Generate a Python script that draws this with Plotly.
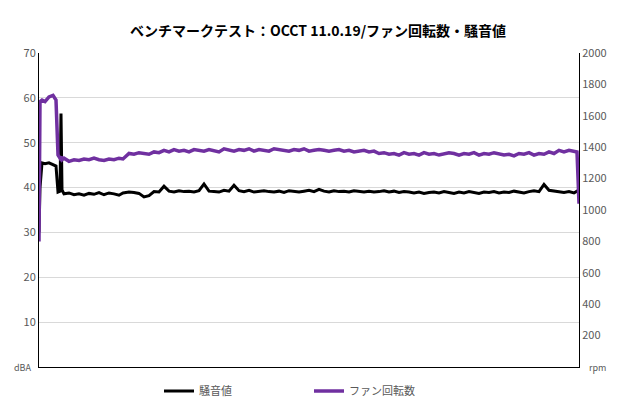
import plotly.graph_objects as go

t = [0, 1, 3, 6, 10, 14, 17, 19, 21, 22, 23, 25, 30, 35, 40, 45, 50, 55, 60, 65, 70, 75, 80, 84,
     90, 95, 100, 105, 110, 115, 120, 125, 130, 135, 140, 145, 150, 155, 160, 165, 170, 175, 180,
     185, 190, 195, 200, 205, 210, 215, 220, 225, 230, 235, 240, 245, 250, 255, 260, 265, 270, 275,
     280, 285, 290, 295, 300, 305, 310, 315, 320, 325, 330, 335, 340, 345, 350, 355, 360, 365, 370,
     375, 380, 385, 390, 395, 400, 405, 410, 415, 420, 425, 430, 435, 440, 445, 450, 455, 460, 465,
     470, 475, 480, 485, 490, 495, 500, 505, 510, 515, 520, 525, 530, 535, 538, 540]
dba = [30, 40, 45.5, 45.3, 45.5, 45, 44.8, 39, 39.2, 56.5, 39.5, 38.6, 38.8, 38.4, 38.6, 38.3, 38.7, 38.5, 38.9, 38.4, 38.8, 38.6, 38.3, 38.8,
       39.0, 38.9, 38.7, 37.9, 38.2, 39.1, 39.0, 40.3, 39.2, 39.0, 39.3, 39.1, 39.2, 39.0, 39.3, 40.8, 39.2, 39.1, 39.0,
       39.4, 39.2, 40.5, 39.3, 39.1, 39.4, 39.0, 39.2, 39.3, 39.1, 39.0, 39.2, 38.9, 39.3, 39.1, 39.0, 39.2, 39.4, 39.1,
       39.6, 39.2, 39.0, 39.3, 39.1, 39.2, 39.0, 39.3, 39.1, 39.0, 39.2, 39.0, 39.1, 39.3, 39.0, 39.2, 38.9, 39.1, 39.0,
       38.8, 39.0, 38.7, 38.9, 39.0, 38.8, 39.1, 38.9, 38.7, 39.0, 38.8, 39.1, 38.9, 38.7, 39.0, 38.9, 39.1, 38.8, 39.0,
       38.9, 39.2, 39.0, 38.8, 39.1, 39.3, 39.1, 40.7, 39.4, 39.2, 39.0, 38.9, 39.1, 38.8, 39.2, 39.4]
rpm = [800, 1690, 1700, 1690, 1720, 1730, 1700, 1350, 1330, 1340, 1320, 1330, 1310, 1320, 1315, 1325, 1320, 1330, 1320, 1315, 1325, 1320, 1330, 1325,
       1360, 1355, 1365, 1360, 1355, 1370, 1365, 1380, 1370, 1385, 1375, 1380, 1370, 1385, 1380, 1375, 1385, 1380, 1370,
       1390, 1380, 1375, 1385, 1380, 1390, 1375, 1385, 1380, 1375, 1390, 1385, 1380, 1375, 1385, 1380, 1390, 1375, 1380,
       1385, 1380, 1375, 1380, 1385, 1375, 1380, 1370, 1375, 1380, 1370, 1375, 1360, 1365, 1355, 1360, 1350, 1365, 1355,
       1360, 1350, 1365, 1355, 1360, 1350, 1355, 1365, 1360, 1350, 1360, 1355, 1365, 1350, 1360, 1355, 1365, 1360, 1350,
       1355, 1345, 1360, 1355, 1365, 1350, 1360, 1355, 1370, 1360, 1380, 1370, 1380, 1375, 1370, 1040]

fig = go.Figure()
fig.add_trace(go.Scatter(x=t, y=dba, name="騒音値", mode="lines",
                         line=dict(color="black", width=3)))
fig.add_trace(go.Scatter(x=t, y=rpm, name="ファン回転数", mode="lines", yaxis="y2",
                         line=dict(color="#7030A0", width=3.5)))
fig.update_layout(
    width=620, height=409, plot_bgcolor="white", paper_bgcolor="white",
    margin=dict(l=31, r=49, t=45, b=31),
    font=dict(family="Noto Sans CJK JP", size=11, color="#595959"),
    title=dict(text="<b>ベンチマークテスト：OCCT 11.0.19/ファン回転数・騒音値</b>", x=0.5, y=0.955,
               xanchor="center", font=dict(size=14, color="black")),
    xaxis=dict(range=[0, 540], showticklabels=False, showgrid=False, zeroline=False,
               showline=True, linecolor="black", mirror=False, ticks=""),
    yaxis=dict(range=[0, 70], tickvals=[10, 20, 30, 40, 50, 60, 70], gridcolor="#d9d9d9",
               showline=True, linecolor="black", zeroline=False, ticks=""),
    yaxis2=dict(range=[0, 2000], overlaying="y", side="right",
                tickvals=[200, 400, 600, 800, 1000, 1200, 1400, 1600, 1800, 2000],
                showgrid=False, showline=True, linecolor="black", zeroline=False, ticks=""),
    legend=dict(orientation="h", x=0.5, xanchor="center", y=-0.03, yanchor="top",
                entrywidth=105, font=dict(size=11, color="#595959")),
    showlegend=True,
    annotations=[
        dict(text="dBA", x=0, xref="paper", xanchor="right", y=0, yref="paper", yanchor="middle",
             showarrow=False, font=dict(size=9, color="#595959"), xshift=-6),
        dict(text="rpm", x=1, xref="paper", xanchor="left", y=0, yref="paper", yanchor="middle",
             showarrow=False, font=dict(size=9, color="#595959"), xshift=8),
    ],
)
fig.write_html("out.html")
